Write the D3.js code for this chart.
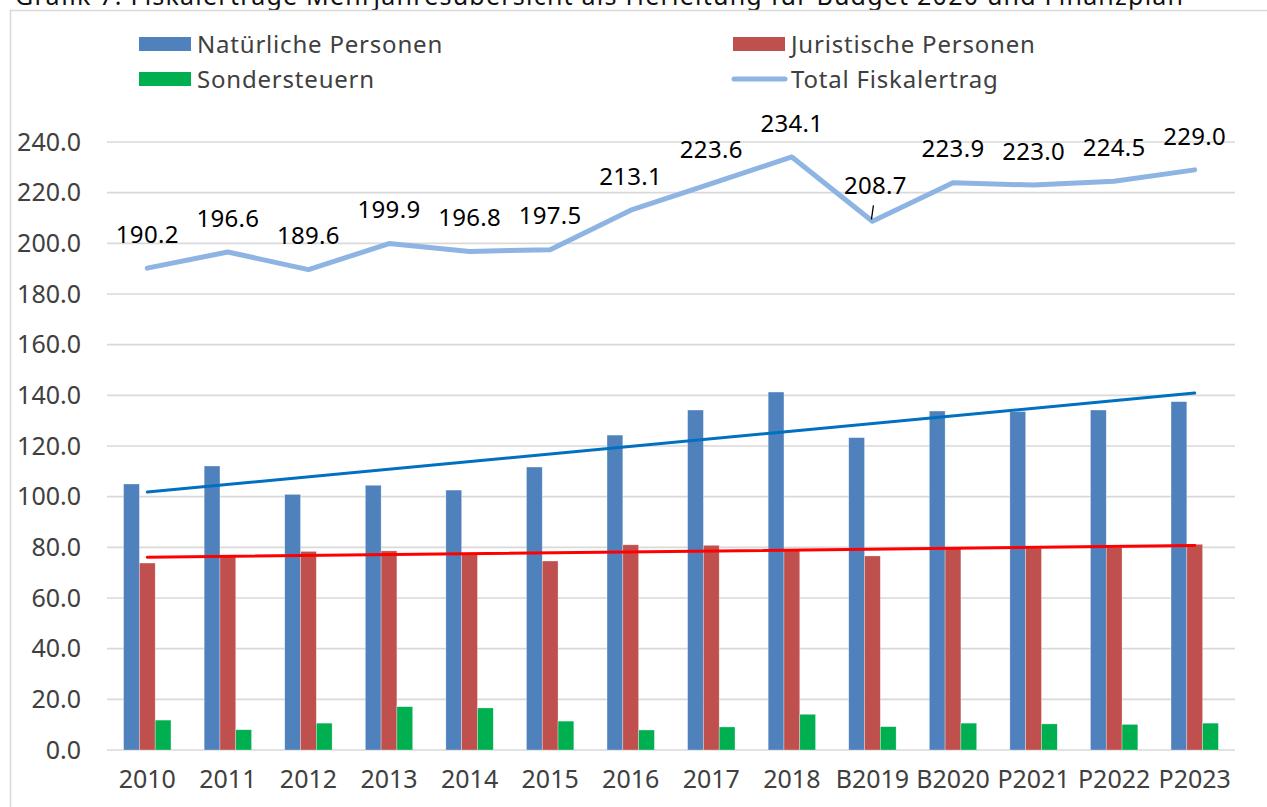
<!DOCTYPE html>
<html>
<head>
<meta charset="utf-8">
<script src="https://cdn.jsdelivr.net/npm/d3@7"></script>
<style>
  body { margin: 0; background: #fff; }
  svg { display: block; font-family: "Noto Sans", "Open Sans", sans-serif; }
</style>
</head>
<body>
<script>
// categories and values (Mio.)
const categories = ["2010", "2011", "2012", "2013", "2014", "2015", "2016", "2017", "2018", "B2019", "B2020", "P2021", "P2022", "P2023"];
const natuerliche = [105.0, 112.1, 100.9, 104.5, 102.6, 111.7, 124.3, 134.2, 141.3, 123.3, 133.8, 133.6, 134.2, 137.5];
const juristische = [73.8, 76.5, 78.4, 78.6, 77.5, 74.6, 81.0, 80.8, 79.0, 76.6, 79.6, 79.7, 80.0, 81.2];
const sondersteuern = [11.8, 8.0, 10.6, 17.1, 16.6, 11.4, 7.9, 9.1, 14.1, 9.2, 10.6, 10.3, 10.1, 10.6];
const total = [190.2, 196.6, 189.6, 199.9, 196.8, 197.5, 213.1, 223.6, 234.1, 208.7, 223.9, 223.0, 224.5, 229.0];
const yTicks = [0, 20, 40, 60, 80, 100, 120, 140, 160, 180, 200, 220, 240];
const seriesNames = ["Natürliche Personen", "Juristische Personen", "Sondersteuern", "Total Fiskalertrag"];

function init() {
    var w = 1267, h = 807;
    var colors = ["#4F81BD", "#C0504D", "#00B050", "#8DB4E2"];

    var svg = d3.select("body").append("svg")
        .attr("width", w)
        .attr("height", h);

    // title, cut off at the top of the picture
    svg.append("text")
        .attr("x", 15)
        .attr("y", 5)
        .attr("font-size", 25)
        .attr("fill", "#111")
        .attr("textLength", 1168)
        .attr("lengthAdjust", "spacing")
        .text("Grafik 7: Fiskalerträge Mehrjahresübersicht als Herleitung für Budget 2020 und Finanzplan");

    // chart frame
    svg.append("path")
        .attr("d", "M10.5," + h + "V10.5H" + w)
        .attr("fill", "none")
        .attr("stroke", "#D9D9D9")
        .attr("stroke-width", 1.5);

    var x = d3.scaleBand()
        .domain(categories)
        .range([107, 1235]);

    var y = d3.scaleLinear()
        .domain([0, 240])
        .range([750, 142]);

    var barW = x.bandwidth() * 0.196;
    var groupOff = (x.bandwidth() - 3 * barW) / 2;

    // gridlines
    svg.append("g")
        .selectAll("line")
        .data(yTicks)
        .enter()
        .append("line")
        .attr("x1", 107)
        .attr("x2", 1235)
        .attr("y1", function(d) { return y(d); })
        .attr("y2", function(d) { return y(d); })
        .attr("stroke", "#D9D9D9")
        .attr("stroke-width", 1.6);

    // y axis labels
    var yAxis = svg.append("g")
        .attr("transform", "translate(81,0)")
        .call(d3.axisLeft(y).tickValues(yTicks).tickFormat(d3.format(".1f")).tickSize(0).tickPadding(0));
    yAxis.select(".domain").remove();
    yAxis.selectAll("text")
        .attr("font-size", 25)
        .attr("font-family", "Noto Sans, sans-serif")
        .attr("fill", "#404040");

    // x axis labels
    var xAxis = svg.append("g")
        .attr("transform", "translate(0,750)")
        .call(d3.axisBottom(x).tickSize(0).tickPadding(20));
    xAxis.select(".domain").remove();
    xAxis.selectAll("text")
        .attr("font-size", 25)
        .attr("font-family", "Noto Sans, sans-serif")
        .attr("fill", "#404040");

    // bars
    var barSeries = [natuerliche, juristische, sondersteuern];
    barSeries.forEach(function(vals, s) {
        svg.append("g")
            .selectAll("rect")
            .data(vals)
            .enter()
            .append("rect")
            .attr("x", function(d, i) { return x(categories[i]) + groupOff + s * barW; })
            .attr("y", function(d) { return y(d); })
            .attr("width", barW)
            .attr("height", function(d) { return y(0) - y(d); })
            .attr("fill", colors[s])
            .attr("stroke", "#fff")
            .attr("stroke-opacity", 0.5)
            .attr("stroke-width", 0.6);
    });

    // linear trendlines (least squares like Excel)
    function trend(vals) {
        var n = vals.length;
        var mx = (n - 1) / 2, my = d3.mean(vals);
        var num = d3.sum(vals, function(v, i) { return (i - mx) * (v - my); });
        var den = d3.sum(vals, function(v, i) { return (i - mx) * (i - mx); });
        var b = num / den;
        return [my - b * mx, my + b * (n - 1 - mx)];
    }
    var cx = function(i) { return x(categories[i]) + x.bandwidth() / 2; };
    [[natuerliche, "#0070C0"], [juristische, "#FF0000"]].forEach(function(t) {
        var ends = trend(t[0]);
        svg.append("line")
            .attr("x1", cx(0))
            .attr("x2", cx(categories.length - 1))
            .attr("y1", y(ends[0]))
            .attr("y2", y(ends[1]))
            .attr("stroke", t[1])
            .attr("stroke-width", 3)
            .attr("stroke-linecap", "round");
    });

    // total line
    var line = d3.line()
        .x(function(d, i) { return cx(i); })
        .y(function(d) { return y(d); });

    svg.append("path")
        .datum(total)
        .attr("d", line)
        .attr("fill", "none")
        .attr("stroke", colors[3])
        .attr("stroke-width", 5)
        .attr("stroke-linejoin", "round")
        .attr("stroke-linecap", "round");

    // data labels
    svg.append("g")
        .selectAll("text")
        .data(total)
        .enter()
        .append("text")
        .attr("x", function(d, i) { return cx(i) + (categories[i] === "B2019" ? 3 : 0); })
        .attr("y", function(d, i) { return y(d) - 34 + (categories[i] === "B2019" ? -2 : 0); })
        .attr("dy", "0.36em")
        .attr("text-anchor", "middle")
        .attr("font-size", 24)
        .attr("letter-spacing", 0.3)
        .attr("fill", "#000")
        .text(function(d) { return d3.format(".1f")(d); });

    // leader line for the moved B2019 label
    var bi = categories.indexOf("B2019");
    svg.append("line")
        .attr("x1", cx(bi) + 1)
        .attr("y1", y(total[bi]) - 16)
        .attr("x2", cx(bi) - 1)
        .attr("y2", y(total[bi]) - 2)
        .attr("stroke", "#000")
        .attr("stroke-width", 1.3);

    // legend
    var legend = [
        {name: seriesNames[0], x: 139, y: 44, c: colors[0], type: "rect"},
        {name: seriesNames[1], x: 733, y: 44, c: colors[1], type: "rect"},
        {name: seriesNames[2], x: 139, y: 79, c: colors[2], type: "rect"},
        {name: seriesNames[3], x: 733, y: 79, c: colors[3], type: "line"}
    ];
    var lg = svg.append("g")
        .selectAll("g")
        .data(legend)
        .enter()
        .append("g")
        .attr("transform", function(d) { return "translate(" + d.x + "," + d.y + ")"; });

    lg.filter(function(d) { return d.type === "rect"; })
        .append("rect")
        .attr("x", 0)
        .attr("y", -7)
        .attr("width", 52)
        .attr("height", 14)
        .attr("fill", function(d) { return d.c; });

    lg.filter(function(d) { return d.type === "line"; })
        .append("line")
        .attr("x1", 1)
        .attr("x2", 52)
        .attr("y1", 0)
        .attr("y2", 0)
        .attr("stroke", function(d) { return d.c; })
        .attr("stroke-width", 5)
        .attr("stroke-linecap", "round");

    lg.append("text")
        .attr("x", 58)
        .attr("y", 0)
        .attr("dy", "0.36em")
        .attr("font-size", 24)
        .attr("letter-spacing", 0.8)
        .attr("fill", "#404040")
        .text(function(d) { return d.name; });
}
window.onload = init;
</script>
</body>
</html>
